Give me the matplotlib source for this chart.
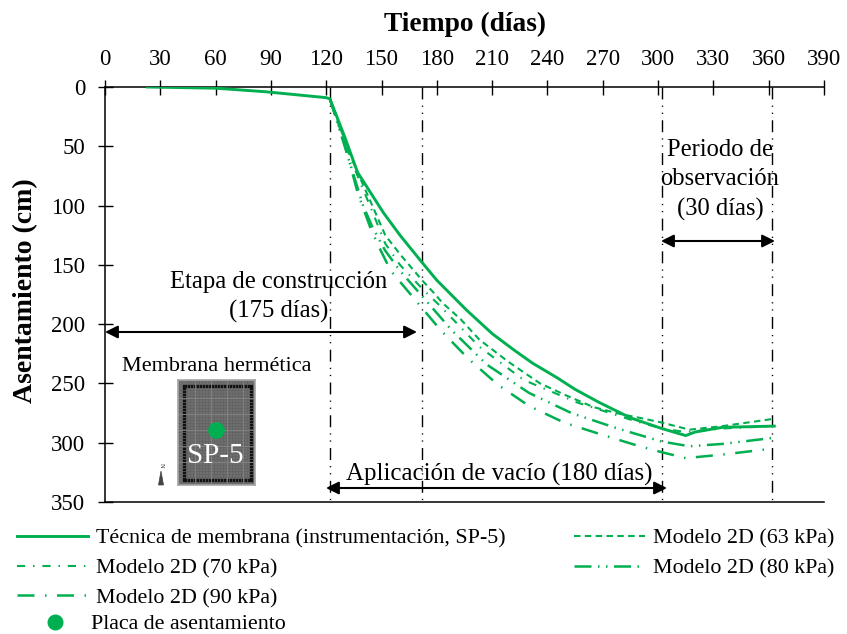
import matplotlib
matplotlib.use("Agg")
import matplotlib.pyplot as plt
from matplotlib.patches import Rectangle, Polygon
from matplotlib.lines import Line2D

W, H = 847, 634
GREEN = "#00B050"
plt.rcParams["font.family"] = ["Liberation Serif", "DejaVu Serif"]

x_ticks = list(range(0, 391, 30))
y_ticks = list(range(0, 351, 50))

solid_d = [23, 60, 87, 120, 122, 130, 137, 144, 151, 160, 172, 180, 196, 210, 222, 232, 245, 255, 268, 285, 302, 315, 320, 335, 363]
solid_v = [0, 1, 4, 9, 10, 42, 72, 89, 106, 125, 148, 163, 188, 208, 222, 233, 245, 255, 266, 279, 288, 294, 291, 287, 286]

m63_d = [122, 130, 137, 145, 152, 160, 172, 178, 183, 193, 203, 219, 236, 250, 265, 280, 290, 302, 317, 335, 362]
m63_v = [10, 45, 72, 100, 125, 141, 163, 173, 182, 196, 213, 232, 250, 260, 270, 276, 279, 283, 289, 286, 280]
m70_d = [122, 130, 137, 145, 152, 160, 172, 182, 203, 227, 256, 286, 302, 315, 335, 362]
m70_v = [10, 47, 75, 105, 132, 150, 170, 185, 219, 247, 266, 281, 288, 291, 288, 286]
m80_d = [122, 130, 140, 145, 152, 160, 169, 188, 207, 230, 253, 278, 302, 317, 335, 362]
m80_v = [10, 50, 100, 118, 138, 155, 171, 205, 234, 258, 275, 288, 299, 303, 301, 296]
m90_d = [122, 130, 137, 144, 148, 155, 168, 182, 197, 213, 230, 249, 269, 290, 302, 315, 335, 362]
m90_v = [10, 48, 89, 119, 133, 155, 179, 205, 229, 251, 269, 283, 293, 303, 308, 313, 310, 305]

vlines_d = [122, 172, 302, 362]

fig = plt.figure(figsize=(W / 100, H / 100), dpi=100, facecolor="white")
L, R, T, B = 105, 824, 87, 502
ax = fig.add_axes([L / W, 1 - B / H, (R - L) / W, (B - T) / H])
ax.set_xlim(0, 390)
ax.set_ylim(350, 0)
ax.set_xticks(x_ticks)
ax.set_yticks(y_ticks)
ax.xaxis.tick_top()
ax.xaxis.set_label_position("top")
ax.spines["right"].set_visible(False)
for s in ax.spines.values():
    s.set_linewidth(1.1)
ax.tick_params(axis="both", which="major", direction="inout", length=10.8, width=1.0, labelsize=16.5)
ax.tick_params(axis="x", pad=7)
ax.tick_params(axis="y", pad=9)
fig.text(465 / W, 1 - 24 / H, "Tiempo (días)", ha="center", va="center", fontsize=19.8, fontweight="bold")
fig.text(26 / W, 1 - 291 / H, "Asentamiento (cm)", ha="center", va="center", rotation=90, fontsize=20, fontweight="bold")

for d in vlines_d:
    ax.plot([d, d], [0, 350], color="black", lw=1.0, dashes=(8.6, 4.4, 0.9, 4.2, 0.9, 4.6), zorder=1)

h_m63, = ax.plot(m63_d, m63_v, color=GREEN, lw=1.5, dashes=(3.1, 2.1), label="Modelo 2D (63 kPa)", zorder=3)
h_m70, = ax.plot(m70_d, m70_v, color=GREEN, lw=1.5, dashes=(3.9, 3.8, 0.7, 3.8), label="Modelo 2D (70 kPa)", zorder=3)
h_m80, = ax.plot(m80_d, m80_v, color=GREEN, lw=1.8, dashes=(6.8, 2.6, 0.6, 2.6, 0.6, 2.6), label="Modelo 2D (80 kPa)", zorder=3)
h_m90, = ax.plot(m90_d, m90_v, color=GREEN, lw=1.8, dashes=(6.8, 4.2, 0.6, 4.2), label="Modelo 2D (90 kPa)", zorder=3)
h_sol, = ax.plot(solid_d, solid_v, color=GREEN, lw=2.1, label="Técnica de membrana (instrumentación, SP-5)", zorder=4)
h_pt = Line2D([], [], color=GREEN, marker="o", ls="none", ms=10.5, label="Placa de asentamiento")


def fx(px):
    return px / W


def fy(py):
    return 1 - py / H


for x0, x1, y in [(105, 417, 332), (661, 775, 241), (326, 667, 488)]:
    ax.annotate("", xy=(fx(x0), fy(y)), xytext=(fx(x1), fy(y)), xycoords="figure fraction", textcoords="figure fraction",
                arrowprops=dict(arrowstyle="<|-|>", color="black", lw=1.5, mutation_scale=19, shrinkA=0, shrinkB=0), zorder=6)

texts = [
    (279, 282, "Etapa de construcción", 17.7),
    (279, 311, "(175 días)", 17.7),
    (720, 150, "Periodo de", 17.7),
    (720, 179, "observación", 17.7),
    (720, 209, "(30 días)", 17.7),
    (499, 474, "Aplicación de vacío (180 días)", 17.9),
    (217, 367, "Membrana hermética", 16),
]
for x, y, s, fs in texts:
    fig.text(fx(x), fy(y), s, ha="center", va="center", fontsize=fs, zorder=7)

# Inset sketch of the membrane
ix0, ix1, iy0, iy1 = 178, 255, 380, 485
ins = fig.add_axes([fx(ix0), fy(iy1), (ix1 - ix0) / W, (iy1 - iy0) / H], facecolor="#6e6e6e", zorder=5)
ins.set_xlim(ix0, ix1)
ins.set_ylim(iy1, iy0)
ins.set_xticks([])
ins.set_yticks([])
for s in ins.spines.values():
    s.set_color("#a5a5a5")
    s.set_linewidth(1.2)
for gx in range(187, 250, 3):
    ins.axvline(gx, color="#626262", lw=0.5)
for gy in range(390, 478, 3):
    ins.axhline(gy, color="#626262", lw=0.5)
for gx in range(195, 250, 16):
    ins.axvline(gx, color="#858585", lw=0.6)
for gy in range(398, 478, 16):
    ins.axhline(gy, color="#858585", lw=0.6)
ins.add_patch(Rectangle((184, 386), 67, 94, fill=False, ec="#111111", lw=2.4))
ins.plot([216], [430], marker="o", color=GREEN, ms=11)
ins.text(215, 456, "SP-5", color="white", ha="center", va="center", fontsize=21)

fig.text(fx(161), fy(465), "N", fontsize=4.5, rotation=-90, ha="center", va="center", color="#222222")
fig.add_artist(Polygon([(fx(161), fy(471)), (fx(163.5), fy(485)), (fx(158.5), fy(485))], closed=True,
                       transform=fig.transFigure, fc="#444444", ec="#444444", lw=0.5))

common = dict(frameon=False, fontsize=15.8, handlelength=3.25, handletextpad=0.36, borderpad=0, borderaxespad=0,
              labelspacing=0.42)
leg1 = fig.legend(handles=[h_sol, h_m70, h_m90], loc="upper left", bbox_to_anchor=(fx(17), fy(528.5)), **common)
leg2 = fig.legend(handles=[h_m63, h_m80], loc="upper left", bbox_to_anchor=(fx(574), fy(528.5)), **common)
leg3 = fig.legend(handles=[h_pt], loc="upper left", bbox_to_anchor=(fx(23), fy(614)),
                  **{**common, "handlelength": 2.9, "handletextpad": 0.18})

fig.savefig("out.png", dpi=100, facecolor="white")
